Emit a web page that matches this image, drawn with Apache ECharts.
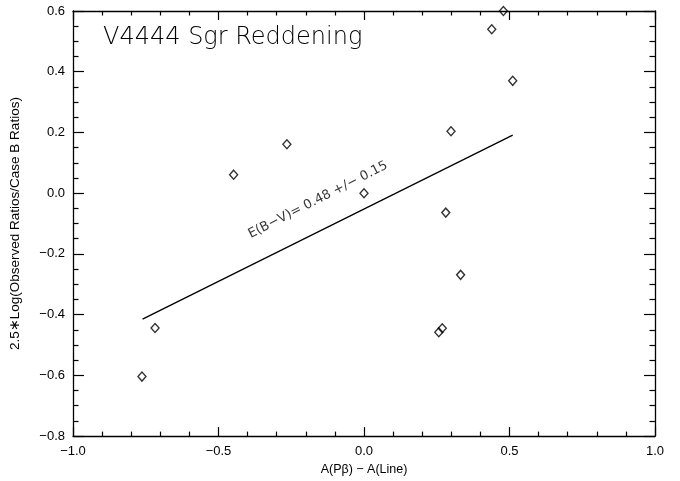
<!DOCTYPE html>
<html>
<head>
<meta charset="utf-8">
<script src="https://cdn.jsdelivr.net/npm/echarts@6/dist/echarts.min.js"></script>
<style>
  html, body { margin: 0; padding: 0; background: #fff; }
  #chart { width: 680px; height: 481px; }
</style>
</head>
<body>
<div id="chart"></div>
<script>
// observed points
var ptX = [-0.763, -0.718, -0.448, -0.265, 0.000, 0.257, 0.269, 0.281, 0.299, 0.332, 0.439, 0.479, 0.511];
var ptY = [-0.604, -0.444, 0.061, 0.161, 0.000, -0.458, -0.445, -0.064, 0.204, -0.269, 0.540, 0.600, 0.370];

// fitted line end points
var fitX = [-0.761, 0.511];
var fitY = [-0.415, 0.191];

// annotation anchor (centre of the text)
var noteX = [-0.158];
var noteY = [-0.022];
var noteText = 'E(B\u2212V)= 0.48 +/\u2212 0.15';

var xTicks = [-1.0, -0.5, 0.0, 0.5, 1.0];
var yTicks = [-0.8, -0.6, -0.4, -0.2, 0.0, 0.2, 0.4, 0.6];

var font = 'DejaVu Sans';
var labelFont = 'Liberation Sans';

function fmt(v) {
    return v.toFixed(1).replace('-', '\u2212');
}

function zip(a, b) {
    return a.map(function (v, i) { return [v, b[i]]; });
}

function xAx(pos, labels) {
    return {
        type: 'value', position: pos,
        min: xTicks[0], max: xTicks[xTicks.length - 1], interval: 0.5,
        axisLine: {show: true, onZero: false, lineStyle: {color: '#000', width: 1.3}},
        axisTick: {show: true, inside: true, length: 9, lineStyle: {color: '#000', width: 1.2}},
        minorTick: {show: true, splitNumber: 5, length: 4.5, lineStyle: {color: '#000', width: 1.2}},
        splitLine: {show: false},
        axisLabel: {show: labels, color: '#000', fontFamily: labelFont, fontSize: 13, margin: 9,
            formatter: fmt},
        name: labels ? 'A(P\u03b2) \u2212 A(Line)' : '',
        nameLocation: 'middle', nameGap: 26,
        nameTextStyle: {color: '#000', fontFamily: labelFont, fontSize: 12.5}
    };
}

function yAx(pos, labels) {
    return {
        type: 'value', position: pos,
        min: yTicks[0], max: yTicks[yTicks.length - 1], interval: 0.2,
        axisLine: {show: true, onZero: false, lineStyle: {color: '#000', width: 1.3}},
        axisTick: {show: true, inside: true, length: 11, lineStyle: {color: '#000', width: 1.2}},
        minorTick: {show: true, splitNumber: 4, length: 5.5, lineStyle: {color: '#000', width: 1.2}},
        splitLine: {show: false},
        axisLabel: {show: labels, color: '#000', fontFamily: labelFont, fontSize: 13, margin: 8,
            formatter: fmt},
        name: labels ? '2.5\u2217Log(Observed Ratios/Case B Ratios)' : '',
        nameLocation: 'middle', nameGap: 51, nameRotate: 90,
        nameTextStyle: {color: '#000', fontFamily: labelFont, fontSize: 13.5}
    };
}

var option = {
    animation: false,
    backgroundColor: '#fff',
    title: {
        text: 'V4444 Sgr Reddening',
        left: 98, top: 21,
        textStyle: {color: '#000', fontFamily: font, fontSize: 24, fontWeight: 200}
    },
    grid: {left: 71, right: 25, top: 11, bottom: 39},
    xAxis: [xAx('bottom', true), xAx('top', false)],
    yAxis: [yAx('left', true), yAx('right', false)],
    series: [
        {
            type: 'scatter',
            data: zip(ptX, ptY),
            symbol: 'diamond',
            symbolSize: [8, 9],
            itemStyle: {color: 'rgba(0,0,0,0)', borderColor: '#000', borderWidth: 1.4}
        },
        {
            type: 'line',
            data: zip(fitX, fitY),
            symbol: 'none',
            lineStyle: {color: '#000', width: 1.3}
        },
        {
            type: 'scatter',
            data: zip(noteX, noteY),
            symbolSize: 0,
            silent: true,
            label: {
                show: true, position: 'inside', rotate: 27,
                formatter: noteText,
                color: '#000', fontFamily: font, fontSize: 13
            }
        }
    ]
};

var myChart = echarts.init(document.getElementById('chart'));
myChart.setOption(option, true);
</script>
</body>
</html>
